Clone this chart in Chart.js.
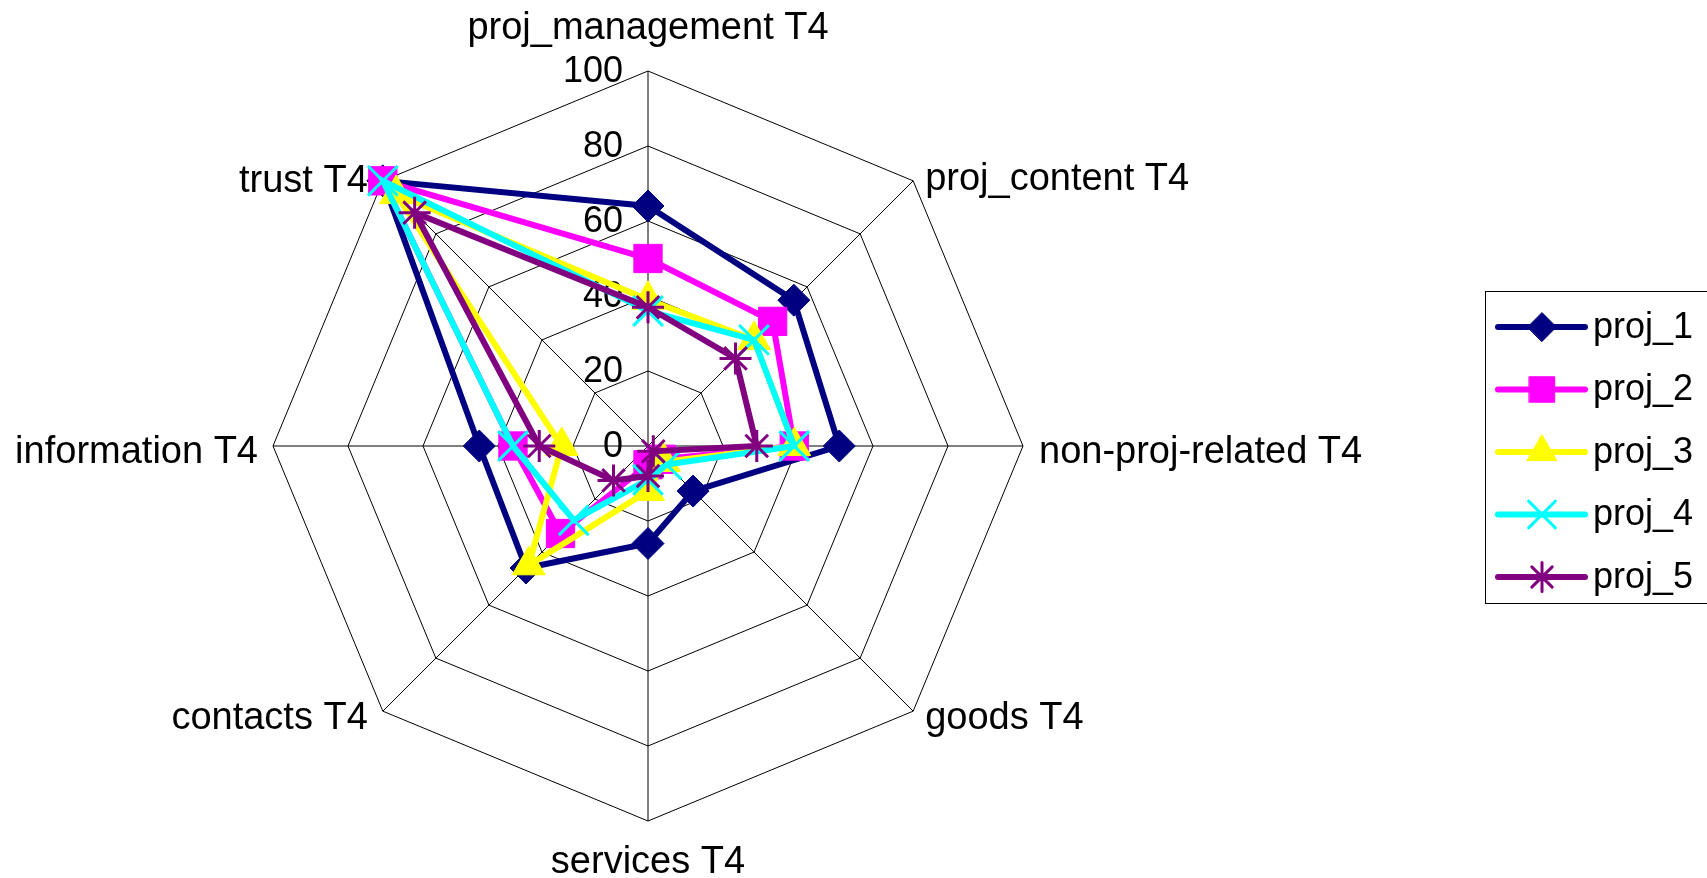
<!DOCTYPE html>
<html>
<head>
<meta charset="utf-8">
<title>Radar T4</title>
<style>
  html, body { margin: 0; padding: 0; background: #fff; }
  #wrap { width: 1707px; height: 878px; }
</style>
</head>
<body>
<div id="wrap"><canvas id="radarChart" width="1707" height="878"></canvas></div>
<script src="https://cdn.jsdelivr.net/npm/chart.js@4.4.0/dist/chart.umd.min.js"></script>
<script>
// axes go clockwise from the top
var axisLabels = ["proj_management T4", "proj_content T4", "non-proj-related T4", "goods T4",
                  "services T4", "contacts T4", "information T4", "trust T4"];
var tickValues = [0, 20, 40, 60, 80, 100];

var proj1 = [64, 55, 51, 17, 26, 46, 45, 100];
var proj2 = [50, 47, 39, 5, 5, 33, 36, 100];
var proj3 = [39, 40, 39, 6, 12, 45, 23, 95];
var proj4 = [36, 40, 39, 7, 9, 28, 36, 100];
var proj5 = [37, 33, 29, 2, 8, 13, 29, 88];

var FONT = "36px 'Liberation Sans', Arial, sans-serif";
var AXIS_FONT = "38px 'Liberation Sans', Arial, sans-serif";

function makeSeries(label, data, color, style, radius, pointWidth, order) {
  return {
    label: label,
    data: data,
    borderColor: color,
    backgroundColor: color,
    borderWidth: 6,
    fill: false,
    tension: 0,
    pointStyle: style,
    pointRadius: radius,
    pointHoverRadius: radius,
    pointBackgroundColor: color,
    pointBorderColor: color,
    pointBorderWidth: pointWidth,
    order: order // later series sit on top, like the original
  };
}

// tick labels, axis titles and the boxed legend
var textPlugin = {
  id: "radarText",
  beforeDatasetsDraw: function (chart) {
    var scale = chart.scales.r;
    var ctx = chart.ctx;
    ctx.save();
    ctx.font = FONT;
    ctx.fillStyle = "#000";
    ctx.textAlign = "right";
    ctx.textBaseline = "middle";
    tickValues.forEach(function (v) {
      var y = scale.yCenter - scale.getDistanceFromCenterForValue(v);
      ctx.fillText(String(v), scale.xCenter - 25, y + 1);
    });
    ctx.restore();
  },
  afterDraw: function (chart) {
    var scale = chart.scales.r;
    var ctx = chart.ctx;
    ctx.save();
    ctx.font = AXIS_FONT;
    ctx.fillStyle = "#000";
    ctx.textBaseline = "middle";
    axisLabels.forEach(function (text, i) {
      var p = scale.getPointPosition(i, scale.drawingArea);
      var deg = Math.round(scale.getIndexAngle(i) * 180 / Math.PI) % 360;
      if (deg === 0) {
        ctx.textAlign = "center";
        ctx.fillText(text, p.x, p.y - 42);
      } else if (deg === 180) {
        ctx.textAlign = "center";
        ctx.fillText(text, p.x, p.y + 42);
      } else if (deg < 180) {
        ctx.textAlign = "left";
        ctx.fillText(text, p.x + (deg === 90 ? 16 : 12), p.y + (deg < 90 ? -1 : 7));
      } else {
        ctx.textAlign = "right";
        ctx.fillText(text, p.x - 15, p.y + (deg > 270 ? 1 : 7));
      }
    });

    // legend
    ctx.font = FONT;
    ctx.lineWidth = 1;
    ctx.strokeStyle = "#000";
    ctx.strokeRect(1485.5, 291.5, 1216, 312);
    chart.data.datasets.forEach(function (ds, i) {
      var y = 327 + i * 62.5;
      ctx.strokeStyle = ds.borderColor;
      ctx.lineWidth = 6;
      ctx.lineCap = "round";
      ctx.beginPath();
      ctx.moveTo(1498, y);
      ctx.lineTo(1585, y);
      ctx.stroke();
      ctx.fillStyle = ds.pointBackgroundColor;
      ctx.strokeStyle = ds.pointBorderColor;
      ctx.lineWidth = ds.pointBorderWidth;
      if (Chart.helpers && Chart.helpers.drawPoint) {
        Chart.helpers.drawPoint(ctx, {
          pointStyle: ds.pointStyle,
          radius: ds.pointRadius * 0.9,
          rotation: 0,
          borderWidth: ds.pointBorderWidth
        }, 1542, y);
      }
      ctx.fillStyle = "#000";
      ctx.textAlign = "left";
      ctx.fillText(ds.label, 1593, y + 1);
    });
    ctx.restore();
  }
};

var radarChart = new Chart(document.getElementById("radarChart").getContext("2d"), {
  type: "radar",
  data: {
    labels: axisLabels,
    datasets: [
      makeSeries("proj_1", proj1, "#000080", "rectRot", 16, 1, 5),
      makeSeries("proj_2", proj2, "#FF00FF", "rect", 20, 1, 4),
      makeSeries("proj_3", proj3, "#FFFF00", "triangle", 19, 1, 3),
      makeSeries("proj_4", proj4, "#00FFFF", "crossRot", 21, 3, 2),
      makeSeries("proj_5", proj5, "#800080", "star", 16, 3, 1)
    ]
  },
  options: {
    responsive: false,
    animation: false,
    devicePixelRatio: 1,
    layout: {
      padding: { left: 273, right: 684, top: 71, bottom: 57 }
    },
    plugins: {
      legend: { display: false },
      tooltip: { enabled: false }
    },
    scales: {
      r: {
        min: 0,
        max: 100,
        ticks: { stepSize: 20, display: false },
        grid: { circular: false, color: "#000", lineWidth: 1 },
        angleLines: { display: true, color: "#000", lineWidth: 1 },
        pointLabels: { display: false }
      }
    }
  },
  plugins: [textPlugin]
});
</script>
</body>
</html>
